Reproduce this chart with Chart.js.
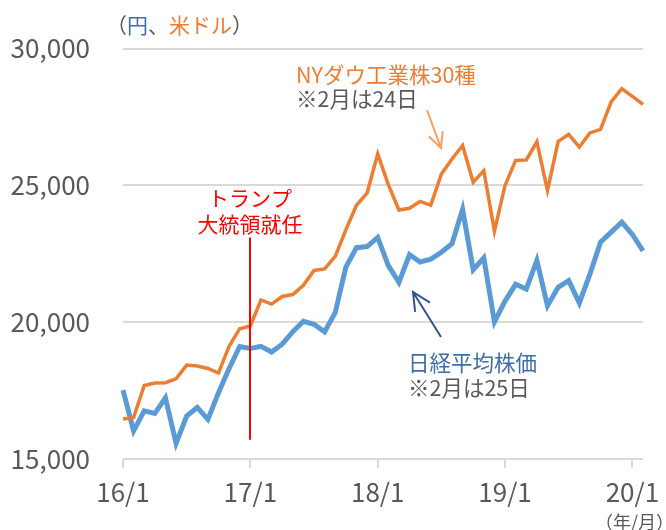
<!DOCTYPE html>
<html>
<head>
<meta charset="utf-8">
<script src="https://cdn.jsdelivr.net/npm/chart.js@4/dist/chart.umd.min.js"></script>
<style>
  html, body { margin: 0; padding: 0; background: #fff; }
  #wrap { width: 666px; height: 530px; position: relative; }
</style>
</head>
<body>
<div id="wrap"><canvas id="chart"></canvas></div>
<script>
// months 16/1 .. 20/2
var months = [];
for (var yy = 16; yy <= 20; yy++) {
  for (var mm = 1; mm <= 12; mm++) {
    if (yy == 20 && mm > 2) break;
    months.push(yy + '/' + mm);
  }
}

// 日経平均株価 (month end, 20/2 is 25th)
var nikkei = [
  17518, 16027, 16759, 16666, 17235, 15576, 16569, 16887, 16450, 17425, 18308, 19114,
  19041, 19119, 18909, 19197, 19651, 20033, 19925, 19646, 20356, 22012, 22725, 22765,
  23098, 22068, 21454, 22468, 22202, 22305, 22554, 22865, 24120, 21920, 22351, 20015,
  20773, 21385, 21206, 22259, 20601, 21276, 21522, 20704, 21756, 22927, 23294, 23657,
  23205, 22606
];

// NYダウ工業株30種 (month end, 20/2 is 24th)
var dow = [
  16466, 16517, 17685, 17774, 17787, 17930, 18432, 18401, 18308, 18142, 19124, 19763,
  19864, 20812, 20663, 20941, 21009, 21350, 21891, 21948, 22405, 23377, 24272, 24719,
  26149, 25029, 24103, 24163, 24416, 24271, 25415, 25965, 26458, 25116, 25538, 23327,
  24999, 25916, 25929, 26593, 24815, 26600, 26864, 26403, 26917, 27046, 28051, 28538,
  28256, 27961
];

var yTicks = [15000, 20000, 25000, 30000];
var inauguration = '17/1';

var FONT = '"Noto Sans CJK JP", "Noto Sans", sans-serif';
var GRAY = '#595959';
var BLUE_TXT = '#3F6FA8';
var ORANGE = '#ED7D31';
var BLUE = '#5B9BD5';

function arrow(ctx, x1, y1, x2, y2, color, head) {
  var a = Math.atan2(y2 - y1, x2 - x1);
  ctx.save();
  ctx.strokeStyle = color;
  ctx.lineWidth = 2;
  ctx.beginPath();
  ctx.moveTo(x1, y1);
  ctx.lineTo(x2, y2);
  ctx.moveTo(x2 - head * Math.cos(a - 0.45), y2 - head * Math.sin(a - 0.45));
  ctx.lineTo(x2, y2);
  ctx.lineTo(x2 - head * Math.cos(a + 0.45), y2 - head * Math.sin(a + 0.45));
  ctx.stroke();
  ctx.restore();
}

var notes = {
  id: 'notes',
  afterDatasetsDraw: function (chart) {
    var ctx = chart.ctx;
    var x = chart.scales.x, y = chart.scales.y;
    ctx.save();
    // inauguration line
    var lx = Math.round(x.getPixelForValue(months.indexOf(inauguration)));
    ctx.strokeStyle = '#FF0000';
    ctx.lineWidth = 2;
    ctx.beginPath();
    ctx.moveTo(lx, y.getPixelForValue(23100));
    ctx.lineTo(lx, y.getPixelForValue(15700));
    ctx.stroke();

    ctx.textBaseline = 'middle';
    ctx.font = '21px ' + FONT;
    ctx.textAlign = 'center';
    ctx.fillStyle = '#FF0000';
    ctx.fillText('トランプ', lx, 198);
    ctx.fillText('大統領就任', lx, 224);

    ctx.textAlign = 'left';
    ctx.fillStyle = ORANGE;
    ctx.font = '21.5px ' + FONT;
    ctx.fillText('NYダウ工業株30種', 296, 75);
    ctx.fillStyle = GRAY;
    ctx.fillText('※2月は24日', 296, 99);
    arrow(ctx, 427, 110, 441, 148, '#F4A060', 17);

    ctx.fillStyle = BLUE_TXT;
    ctx.fillText('日経平均株価', 408, 363);
    ctx.fillStyle = GRAY;
    ctx.fillText('※2月は25日', 408, 388);
    arrow(ctx, 441, 337, 413, 292, '#2F5597', 20);

    // unit labels
    ctx.font = '21px ' + FONT;
    var ux = 106;
    var parts = [['（', GRAY], ['円', BLUE_TXT], ['、', GRAY], ['米ドル', ORANGE], ['）', GRAY]];
    parts.forEach(function (p) {
      ctx.fillStyle = p[1];
      ctx.fillText(p[0], ux, 25);
      ux += ctx.measureText(p[0]).width;
    });
    ctx.font = '18px ' + FONT;
    ctx.fillStyle = GRAY;
    ctx.textAlign = 'right';
    ctx.fillText('（年/月）', 674, 522);
    ctx.restore();
  }
};

new Chart(document.getElementById('chart'), {
  type: 'line',
  data: {
    labels: months,
    datasets: [
      {
        label: 'NYダウ工業株30種',
        data: dow,
        borderColor: ORANGE,
        borderWidth: 3.5,
        pointRadius: 0,
        tension: 0,
        order: 0
      },
      {
        label: '日経平均株価',
        data: nikkei,
        borderColor: BLUE,
        borderWidth: 5,
        pointRadius: 0,
        tension: 0,
        order: 1
      }
    ]
  },
  options: {
    responsive: true,
    maintainAspectRatio: false,
    animation: false,
    layout: { padding: { left: 0, right: 23, top: 47, bottom: 0 } },
    plugins: { legend: { display: false }, tooltip: { enabled: false } },
    scales: {
      x: {
        offset: false,
        border: { display: false },
        grid: {
          drawOnChartArea: false,
          drawTicks: true,
          tickLength: 9,
          lineWidth: 2,
          color: function (c) { return c.index % 12 === 0 ? '#D9D9D9' : 'rgba(0,0,0,0)'; }
        },
        ticks: {
          autoSkip: false,
          maxRotation: 0,
          padding: 9,
          color: GRAY,
          font: { family: FONT, size: 26 },
          callback: function (v, i) { return i % 12 === 0 ? months[i] : ''; }
        },
        afterFit: function (s) { s.height = 71; }
      },
      y: {
        min: 15000,
        max: 30000,
        border: { display: false },
        afterBuildTicks: function (s) { s.ticks = yTicks.map(function (v) { return { value: v }; }); },
        grid: { color: '#D9D9D9', lineWidth: 2, drawTicks: false },
        ticks: {
          padding: 33,
          color: GRAY,
          font: { family: FONT, size: 26 },
          callback: function (v) { return v.toLocaleString('en-US'); }
        },
        afterFit: function (s) { s.width = 123; }
      }
    }
  },
  plugins: [notes]
});
</script>
</body>
</html>
